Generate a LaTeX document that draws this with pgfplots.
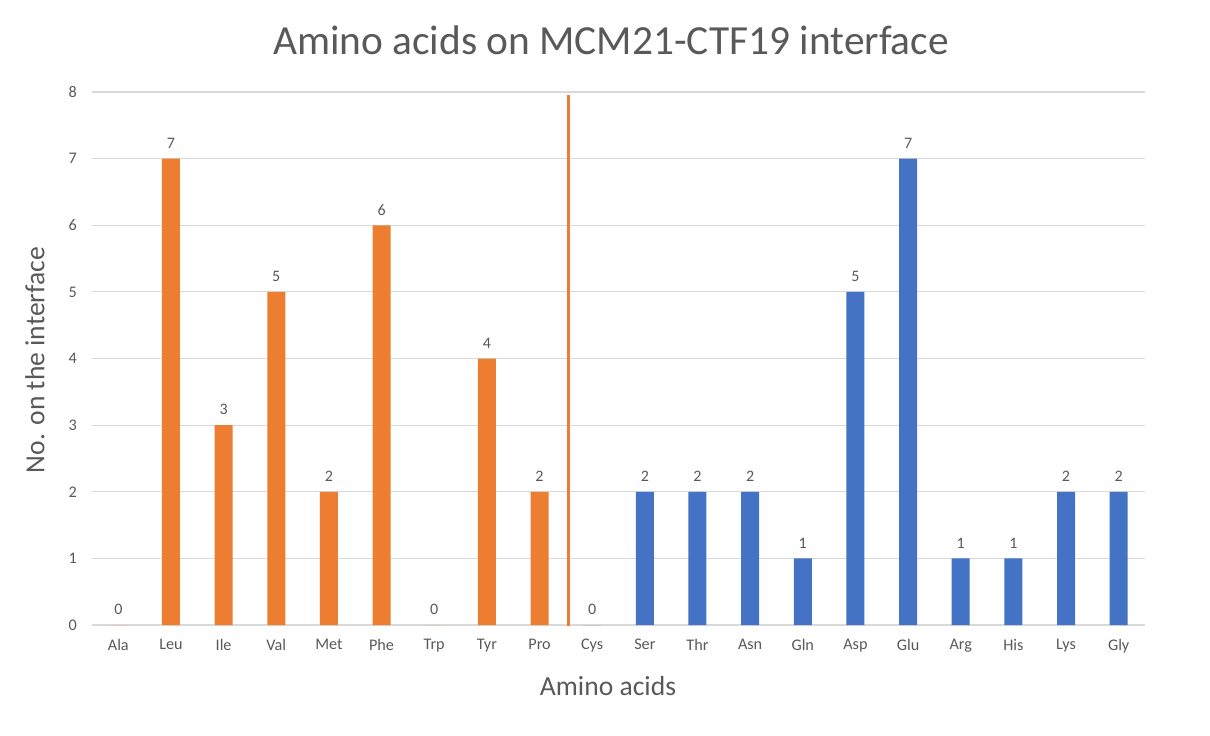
\documentclass[border=0pt]{standalone}
\usepackage{fontspec}
\setmainfont{Carlito}
\usepackage{pgfplots}
\pgfplotsset{compat=1.18}
\definecolor{orng}{HTML}{ED7D31}
\definecolor{blu}{HTML}{4472C4}
\definecolor{txt}{HTML}{595959}
\definecolor{grd}{HTML}{D9D9D9}
\begin{document}
\begin{tikzpicture}
\path[use as bounding box] (-46pt,-55pt) rectangle (559pt,312.5pt);
\begin{axis}[
  at={(0,0)}, anchor=south west,
  scale only axis, width=526.5pt, height=266.5pt,
  xmin=-0.5, xmax=19.5, ymin=0, ymax=8,
  xtick={0,...,19},
  xticklabels={Ala,Leu,Ile,Val,Met,Phe,Trp,Tyr,Pro,Cys,Ser,Thr,Asn,Gln,Asp,Glu,Arg,His,Lys,Gly},
  ytick={0,...,8},
  ymajorgrids, grid style={grd, line width=0.6pt},
  axis line style={draw=none},
  major tick length=0pt,
  tick label style={font=\fontsize{8.1}{9}\selectfont, text=txt},
  xticklabel style={yshift=-3.5pt},
  yticklabel style={xshift=-4pt},
  /pgf/number format/assume math mode=true,
  clip=false,
]
\addplot[ybar, bar width=9pt, bar shift=0pt, fill=orng, draw=none,
  nodes near coords, nodes near coords style={font=\fontsize{8}{9}\selectfont, text=txt, yshift=1.5pt}]
  coordinates {(0,0) (1,7) (2,3) (3,5) (4,2) (5,6) (6,0) (7,4) (8,2)};
\addplot[ybar, bar width=9pt, bar shift=0pt, fill=blu, draw=none,
  nodes near coords, nodes near coords style={font=\fontsize{8}{9}\selectfont, text=txt, yshift=1.5pt}]
  coordinates {(9,0) (10,2) (11,2) (12,2) (13,1) (14,5) (15,7) (16,1) (17,1) (18,2) (19,2)};
\addplot[orng, line width=1.4pt] coordinates {(8.55,-0.02) (8.55,7.95)};
\end{axis}
\node[text=txt, font=\fontsize{20.7}{24}\selectfont] at (259.5pt,292.5pt) {Amino acids on MCM21-CTF19 interface};
\node[text=txt, font=\fontsize{13.8}{16}\selectfont, rotate=90] at (-28.5pt,132.5pt) {No. on the interface};
\node[text=txt, font=\fontsize{13.8}{16}\selectfont] at (258pt,-30.5pt) {Amino acids};
\end{tikzpicture}
\end{document}
